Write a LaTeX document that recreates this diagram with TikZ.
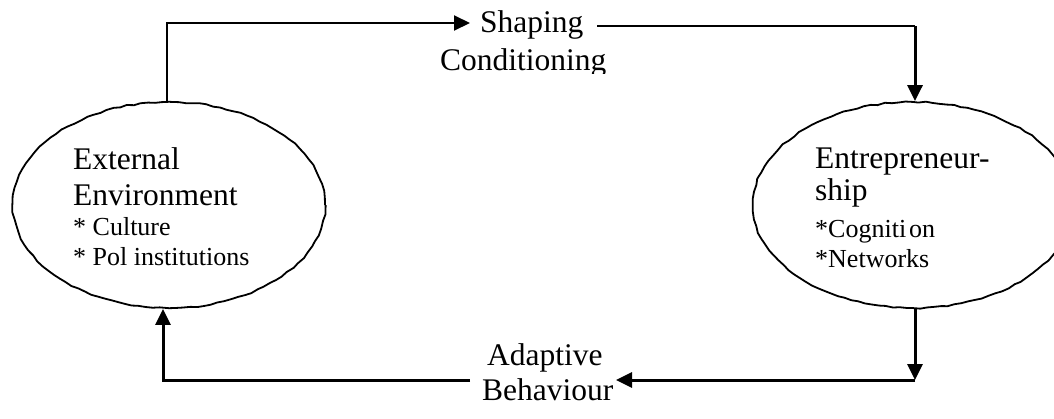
\documentclass[tikz,border=0pt]{standalone}
\usepackage{fontspec}
\setmainfont{Liberation Serif}
\usetikzlibrary{shapes.geometric,arrows.meta,decorations.pathmorphing}
\begin{document}
\begin{tikzpicture}[x=1pt,y=-1pt,
  bubble/.style={ellipse,draw=black,line width=1.8pt,inner sep=0pt,
    decorate,decoration={random steps,segment length=7pt,amplitude=0.7pt}},
  bigtxt/.style={anchor=base west,inner sep=0pt,font=\fontsize{31.5}{36}\selectfont},
  smalltxt/.style={anchor=base west,inner sep=0pt,font=\fontsize{26}{30}\selectfont},
  thinline/.style={line width=2pt},
  thickline/.style={line width=3pt},
  tip/.style={-{Triangle[length=16pt,width=15pt]}}
]
\pgfmathsetseed{7}
\clip (0,0) rectangle (1054,418);
\fill[white] (0,0) rectangle (1054,418);

% ellipses
\node[bubble,minimum width=312pt,minimum height=206pt] (env) at (169,205) {};
\node[bubble,minimum width=320pt,minimum height=206pt] (ent) at (913,205) {};

% ellipse texts
\node[bigtxt] (ext) at (73,169) {External};
\node[bigtxt] (envt) at (73,205) {Environment};
\node[smalltxt] (cult) at (73,235) {* Culture};
\node[smalltxt] (pol) at (73,265) {* Pol institutions};

\node[bigtxt] (entr) at (815,168) {Entrepreneur-};
\node[bigtxt] (ship) at (815,200) {ship};
\node[smalltxt] (cog) at (815,237) {*Cogniti\kern3pt on};
\node[smalltxt] (net) at (815,267) {*Networks};

% labels
\node[bigtxt] (shaping) at (480,32) {Shaping};
\begin{scope}
\clip (430,40) rectangle (620,73);
\node[bigtxt] (cond) at (440,70) {Conditioning};
\end{scope}
\node[bigtxt] (adapt) at (487,365) {Adaptive};
\node[bigtxt] (behav) at (482,400) {Behaviour};

% coordinates
\coordinate (tl) at (167,23);
\coordinate (ta) at (470,23);
\coordinate (ts) at (597,26);
\coordinate (tr) at (915,26);
\coordinate (rb) at (915,380);
\coordinate (ba) at (616,380);
\coordinate (bs) at (470,380);
\coordinate (bl) at (163,380);

% connectors
\draw[thinline,tip] (167,102) -- (tl) -- (ta);
\draw[thinline] (ts) -- (tr);
\draw[thickline,tip] (tr) -- (ent.north -| tr);
\draw[thickline,tip] (ent.south -| rb) -- (rb);
\draw[thickline,tip] (rb) -- (ba);
\draw[thickline,tip] (bs) -- (bl) -- (env.south -| bl);
\end{tikzpicture}
\end{document}
